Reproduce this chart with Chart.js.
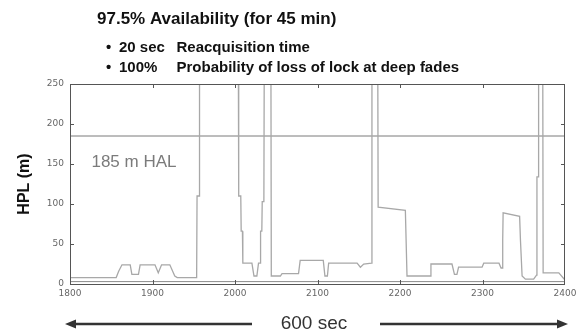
<!DOCTYPE html>
<html>
<head>
<meta charset="utf-8">
<script src="https://cdn.jsdelivr.net/npm/chart.js@4"></script>
<style>
  html, body { margin: 0; padding: 0; background: #fff; }
  #wrap { width: 581px; height: 332px; position: relative; }
</style>
</head>
<body>
<div id="wrap"><canvas id="hplChart"></canvas></div>
<script>
// HPL trace over the 600 s window (values above 250 run off the top of the plot)
const seconds = [1800, 1856, 1859, 1863, 1873, 1875, 1883, 1885, 1903, 1907, 1911, 1921, 1927, 1930,
  1953.5, 1954, 1956.5, 1957, 2004, 2004.5, 2007, 2007.5, 2009, 2009.5, 2020.5, 2023, 2026.5, 2028.5,
  2030.5, 2031, 2032.5, 2033, 2035, 2035.5, 2043.5, 2044, 2055, 2057, 2077, 2079, 2107, 2109, 2112,
  2113.5, 2148, 2152, 2156, 2165.5, 2166, 2173, 2173.5, 2206.5, 2208.5, 2237, 2237.5, 2263, 2266,
  2269, 2271, 2299.5, 2301.5, 2320, 2322.5, 2324, 2324.5, 2325, 2345, 2346, 2348, 2352, 2362,
  2365.5, 2366, 2367.5, 2368, 2373, 2373.5, 2392.5, 2400];
const hpl = [8, 8, 16, 24, 24, 12, 12, 24, 24, 14, 24, 24, 10, 8,
  8, 110, 110, 300, 300, 110, 110, 66, 66, 26, 26, 10, 10, 26,
  26, 66, 66, 103, 103, 300, 300, 10, 10, 13, 13, 29.5, 29.5, 10, 10,
  26, 26, 21, 25, 26, 300, 300, 96, 92, 10, 10, 25, 25, 12,
  12, 21, 21, 26, 26, 20, 20, 55, 89, 84.5, 55, 10, 6, 6,
  11, 134, 134, 300, 300, 14, 14, 5];

const halLimit = [185, 185];
const floorLine = [3, 3];
const xRange = [1800, 2400];
const xTicks = [1800, 1900, 2000, 2100, 2200, 2300, 2400];
const yTicks = [0, 50, 100, 150, 200, 250];

const toPoints = (xs, ys) => xs.map((x, i) => ({ x: x, y: ys[i] }));

const tickFont = { family: '"DejaVu Sans", sans-serif', size: 9 };

// frame, inward tick marks and the annotation text around the plot
const decorations = {
  id: 'decorations',
  afterDraw(chart) {
    const ctx = chart.ctx;
    const a = chart.chartArea;
    const xs = chart.scales.x, ys = chart.scales.y;
    ctx.save();
    ctx.strokeStyle = '#555';
    ctx.lineWidth = 1;
    ctx.strokeRect(a.left + 0.5, a.top + 0.5, a.right - a.left - 1, a.bottom - a.top);

    ctx.beginPath();
    xTicks.slice(1, -1).forEach(t => {
      const px = Math.round(xs.getPixelForValue(t)) + 0.5;
      ctx.moveTo(px, a.top); ctx.lineTo(px, a.top + 4);
      ctx.moveTo(px, a.bottom); ctx.lineTo(px, a.bottom - 4);
    });
    yTicks.slice(1, -1).forEach(t => {
      const py = Math.round(ys.getPixelForValue(t)) + 0.5;
      ctx.moveTo(a.left, py); ctx.lineTo(a.left + 4, py);
      ctx.moveTo(a.right, py); ctx.lineTo(a.right - 4, py);
    });
    ctx.stroke();

    // HAL label inside the plot
    ctx.fillStyle = '#7b7b7b';
    ctx.font = '17px "Liberation Sans", Arial, sans-serif';
    ctx.textBaseline = 'middle';
    ctx.textAlign = 'left';
    ctx.fillText('185 m HAL', xs.getPixelForValue(1826), ys.getPixelForValue(152));

    // heading and bullet notes
    ctx.fillStyle = '#111';
    ctx.font = 'bold 17px "Liberation Sans", Arial, sans-serif';
    ctx.fillText('97.5% Availability (for 45 min)', 97, 19);
    ctx.font = 'bold 15px "Liberation Sans", Arial, sans-serif';
    ctx.fillText('•', 106, 48);
    ctx.fillText('20 sec', 119, 48);
    ctx.fillText('Reacquisition time', 176.5, 48);
    ctx.fillText('•', 106, 68);
    ctx.fillText('100%', 119, 68);
    ctx.fillText('Probability of loss of lock at deep fades', 176.5, 68);

    // 600 sec span with arrows
    const ay = 324;
    ctx.fillStyle = '#333';
    ctx.strokeStyle = '#333';
    ctx.lineWidth = 2.5;
    ctx.beginPath();
    ctx.moveTo(74, ay); ctx.lineTo(252, ay);
    ctx.moveTo(380, ay); ctx.lineTo(559, ay);
    ctx.stroke();
    ctx.beginPath();
    ctx.moveTo(65, ay); ctx.lineTo(76, ay - 4.5); ctx.lineTo(76, ay + 4.5); ctx.closePath();
    ctx.moveTo(568, ay); ctx.lineTo(557, ay - 4.5); ctx.lineTo(557, ay + 4.5); ctx.closePath();
    ctx.fill();
    ctx.textAlign = 'center';
    ctx.font = '19px "Liberation Sans", Arial, sans-serif';
    ctx.fillText('600 sec', 314, ay);
    ctx.restore();
  }
};

new Chart(document.getElementById('hplChart'), {
  type: 'line',
  data: {
    datasets: [
      {
        data: toPoints(seconds, hpl),
        borderColor: '#a8a8a8',
        borderWidth: 1.3,
        pointRadius: 0,
        tension: 0,
        clip: 0
      },
      {
        data: toPoints(xRange, halLimit),
        borderColor: '#7a7a7a',
        borderWidth: 1,
        pointRadius: 0
      },
      {
        data: toPoints(xRange, floorLine),
        borderColor: '#8a8a8a',
        borderWidth: 1,
        pointRadius: 0
      }
    ]
  },
  options: {
    responsive: true,
    maintainAspectRatio: false,
    animation: false,
    events: [],
    layout: { padding: { top: 84, right: 16, left: 0, bottom: 0 } },
    plugins: { legend: { display: false }, tooltip: { enabled: false } },
    scales: {
      x: {
        type: 'linear',
        min: xRange[0],
        max: xRange[1],
        afterFit: s => { s.height = 48; },
        afterBuildTicks: s => { s.ticks = xTicks.map(v => ({ value: v })); },
        grid: { display: false, drawTicks: false },
        border: { display: false },
        ticks: { color: '#666', font: tickFont, padding: 4, maxRotation: 0, callback: v => String(v) }
      },
      y: {
        min: 0,
        max: 250,
        afterFit: s => { s.width = 70; },
        afterBuildTicks: s => { s.ticks = yTicks.map(v => ({ value: v })); },
        grid: { display: false, drawTicks: false },
        border: { display: false },
        ticks: { color: '#666', font: tickFont, padding: 6, callback: v => String(v) },
        title: {
          display: true,
          text: 'HPL (m)',
          color: '#111',
          font: { family: '"Liberation Sans", Arial, sans-serif', size: 16, weight: 'bold' },
          padding: { top: 15, bottom: 0 }
        }
      }
    }
  },
  plugins: [decorations]
});
</script>
</body>
</html>
